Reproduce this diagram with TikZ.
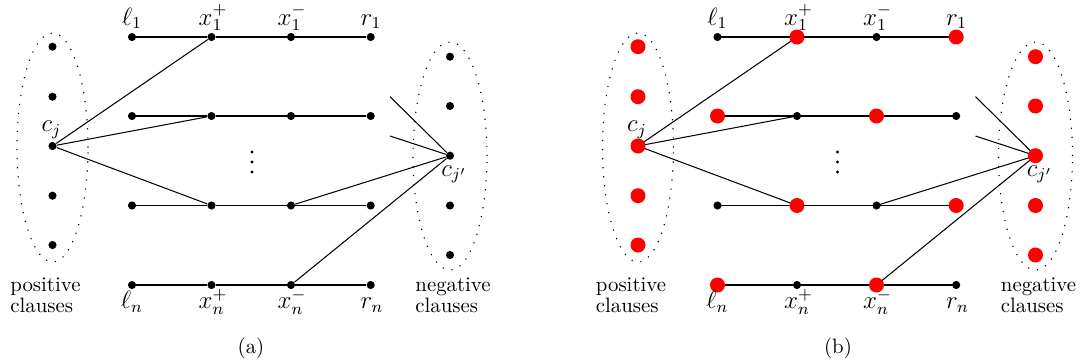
\documentclass[tikz,border=0pt]{standalone}
\begin{document}
\begin{tikzpicture}[x=0.48pt,y=-0.48pt,
  dotk/.style={circle,fill=black,inner sep=0pt,minimum size=3.9pt},
  dotr/.style={circle,fill=red,inner sep=0pt,minimum size=7.2pt},
  edge/.style={line width=0.5pt},
  clus/.style={line width=0.55pt,dash pattern=on 0.55pt off 3.8pt},
  lab/.style={anchor=base,inner sep=0pt,font=\large},
  labw/.style={anchor=base west,inner sep=0pt,font=\large},
  txt/.style={anchor=base west,inner sep=0pt},
  captxt/.style={anchor=base,inner sep=0pt},
  vdot/.style={circle,fill=black,inner sep=0pt,minimum size=1.6pt}
]
\useasboundingbox (0,0) rectangle (1082,362);

% ================= panel (a) =================
\begin{scope}
\draw[clus] (52.5,147.5) ellipse [x radius=17.04pt, y radius=54.96pt];
\draw[clus] (450,156) ellipse [x radius=17.76pt, y radius=54.72pt];

\node[dotk] (aL1) at (132,37) {};
\node[dotk] (aP1) at (211.5,37) {};
\node[dotk] (aN1) at (291,37) {};
\node[dotk] (aR1) at (370.7,37) {};
\node[dotk] (aL2) at (132,116) {};
\node[dotk] (aP2) at (211.5,116) {};
\node[dotk] (aN2) at (291,116) {};
\node[dotk] (aR2) at (370.7,116) {};
\node[dotk] (aL3) at (132,205.5) {};
\node[dotk] (aP3) at (211.5,205.5) {};
\node[dotk] (aN3) at (291,205.5) {};
\node[dotk] (aR3) at (370.7,205.5) {};
\node[dotk] (aL4) at (132,285) {};
\node[dotk] (aP4) at (211.5,285) {};
\node[dotk] (aN4) at (291,285) {};
\node[dotk] (aR4) at (370.7,285) {};

\node[dotk] (aC1) at (52.5,46.7) {};
\node[dotk] (aC2) at (52.5,96.7) {};
\node[dotk] (aC3) at (52.5,146) {};
\node[dotk] (aC4) at (52.5,195.7) {};
\node[dotk] (aC5) at (52.5,245) {};
\node[dotk] (aD1) at (450,56.7) {};
\node[dotk] (aD2) at (450,106) {};
\node[dotk] (aD3) at (450,155.7) {};
\node[dotk] (aD4) at (450,205.5) {};
\node[dotk] (aD5) at (450,255) {};

\coordinate (aE1) at (390,96.7);
\coordinate (aE2) at (390,136);

\foreach \r in {1,2,3,4} {
  \draw[edge] (aL\r) -- (aP\r) -- (aN\r) -- (aR\r);
}
\draw[edge] (aC3) -- (aP1);
\draw[edge] (aC3) -- (aP2);
\draw[edge] (aC3) -- (aP3);
\draw[edge] (aD3) -- (aN3);
\draw[edge] (aD3) -- (aN4);
\draw[edge] (aD3) -- (aE1);
\draw[edge] (aD3) -- (aE2);

\node[vdot] (aV1) at (252,152) {};
\node[vdot] (aV2) at (252,162) {};
\node[vdot] (aV3) at (252,172) {};

\node[lab] (atL1) at (132,25) {$\ell_1$};
\node[lab] (atP1) at (213,25) {$x_1^+$};
\node[lab] (atN1) at (292,25) {$x_1^-$};
\node[lab] (atR1) at (371,25) {$r_1$};
\node[lab] (atL4) at (132,308.5) {$\ell_n$};
\node[lab] (atP4) at (213,308.5) {$x_n^+$};
\node[lab] (atN4) at (292,308.5) {$x_n^-$};
\node[lab] (atR4) at (372,308.5) {$r_n$};
\node[lab] (atC) at (51.5,131.5) {$c_j$};
\node[labw] (atD) at (441,176) {$c_{j'}$};

\node[txt] (apos1) at (10,291) {positive};
\node[txt] (apos2) at (10,312) {clauses};
\node[txt] (aneg1) at (415,291) {negative};
\node[txt] (aneg2) at (415,312) {clauses};
\node[captxt] (acap) at (251,353) {(a)};
\end{scope}

% ================= panel (b) =================
\begin{scope}[xshift=585.5*0.48pt]
\draw[clus] (52.5,147.5) ellipse [x radius=17.04pt, y radius=54.96pt];
\draw[clus] (450,156) ellipse [x radius=17.76pt, y radius=54.72pt];

\coordinate (bE1) at (390,96.7);
\coordinate (bE2) at (390,136);

\coordinate (bL1) at (132,37);
\coordinate (bP1) at (211.5,37);
\coordinate (bN1) at (291,37);
\coordinate (bR1) at (370.7,37);
\coordinate (bL2) at (132,116);
\coordinate (bP2) at (211.5,116);
\coordinate (bN2) at (291,116);
\coordinate (bR2) at (370.7,116);
\coordinate (bL3) at (132,205.5);
\coordinate (bP3) at (211.5,205.5);
\coordinate (bN3) at (291,205.5);
\coordinate (bR3) at (370.7,205.5);
\coordinate (bL4) at (132,285);
\coordinate (bP4) at (211.5,285);
\coordinate (bN4) at (291,285);
\coordinate (bR4) at (370.7,285);
\coordinate (bC3) at (52.5,146);
\coordinate (bD3) at (450,155.7);

\foreach \r in {1,2,3,4} {
  \draw[edge] (bL\r) -- (bP\r) -- (bN\r) -- (bR\r);
}
\draw[edge] (bC3) -- (bP1);
\draw[edge] (bC3) -- (bP2);
\draw[edge] (bC3) -- (bP3);
\draw[edge] (bD3) -- (bN3);
\draw[edge] (bD3) -- (bN4);
\draw[edge] (bD3) -- (bE1);
\draw[edge] (bD3) -- (bE2);

\node[dotk] (bL1n) at (bL1) {};
\node[dotr] (bP1n) at (bP1) {};
\node[dotk] (bN1n) at (bN1) {};
\node[dotr] (bR1n) at (bR1) {};
\node[dotr] (bL2n) at (bL2) {};
\node[dotk] (bP2n) at (bP2) {};
\node[dotr] (bN2n) at (bN2) {};
\node[dotk] (bR2n) at (bR2) {};
\node[dotk] (bL3n) at (bL3) {};
\node[dotr] (bP3n) at (bP3) {};
\node[dotk] (bN3n) at (bN3) {};
\node[dotr] (bR3n) at (bR3) {};
\node[dotr] (bL4n) at (bL4) {};
\node[dotk] (bP4n) at (bP4) {};
\node[dotr] (bN4n) at (bN4) {};
\node[dotk] (bR4n) at (bR4) {};

\node[dotr] (bC1) at (52.5,46.7) {};
\node[dotr] (bC2) at (52.5,96.7) {};
\node[dotr] (bC3n) at (bC3) {};
\node[dotr] (bC4) at (52.5,195.7) {};
\node[dotr] (bC5) at (52.5,245) {};
\node[dotr] (bD1) at (450,56.7) {};
\node[dotr] (bD2) at (450,106) {};
\node[dotr] (bD3n) at (bD3) {};
\node[dotr] (bD4) at (450,205.5) {};
\node[dotr] (bD5) at (450,255) {};

\node[vdot] (bV1) at (252,152) {};
\node[vdot] (bV2) at (252,162) {};
\node[vdot] (bV3) at (252,172) {};

\node[lab] (btL1) at (132,25) {$\ell_1$};
\node[lab] (btP1) at (213,25) {$x_1^+$};
\node[lab] (btN1) at (292,25) {$x_1^-$};
\node[lab] (btR1) at (371,25) {$r_1$};
\node[lab] (btL4) at (132,308.5) {$\ell_n$};
\node[lab] (btP4) at (213,308.5) {$x_n^+$};
\node[lab] (btN4) at (292,308.5) {$x_n^-$};
\node[lab] (btR4) at (372,308.5) {$r_n$};
\node[lab] (btC) at (51.5,131.5) {$c_j$};
\node[labw] (btD) at (441,176) {$c_{j'}$};

\node[txt] (bpos1) at (10,291) {positive};
\node[txt] (bpos2) at (10,312) {clauses};
\node[txt] (bneg1) at (415,291) {negative};
\node[txt] (bneg2) at (415,312) {clauses};
\node[captxt] (bcap) at (252.5,353) {(b)};
\end{scope}
\end{tikzpicture}
\end{document}
